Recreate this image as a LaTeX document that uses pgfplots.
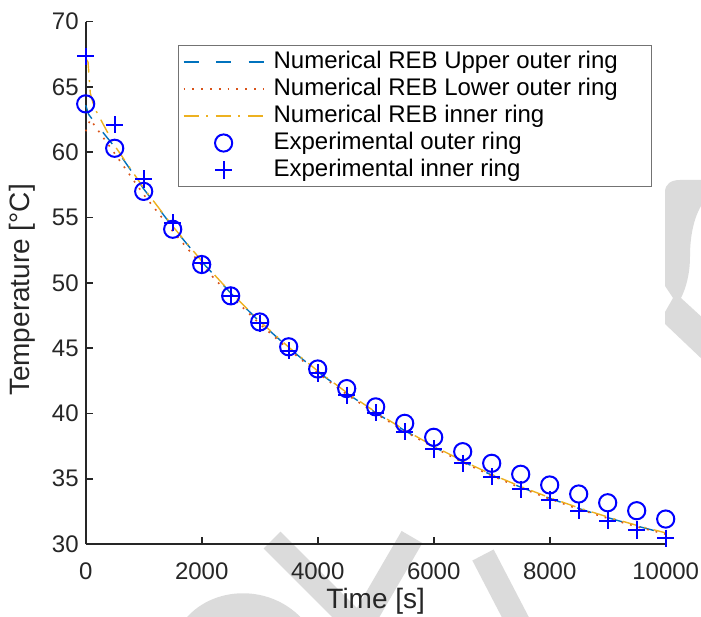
\documentclass[border=0pt]{standalone}
\usepackage{fontspec}
\setmainfont{Liberation Sans}
\usepackage{pgfplots}
\pgfplotsset{compat=1.18}
\definecolor{mblue}{rgb}{0,0.447,0.741}
\definecolor{morange}{rgb}{0.85,0.325,0.098}
\definecolor{myellow}{rgb}{0.929,0.694,0.125}
\definecolor{txt}{rgb}{0.15,0.15,0.15}
\definecolor{wm}{rgb}{0.86,0.86,0.86}
\begin{document}
\begin{tikzpicture}
\begin{scope}[x=0.5pt,y=-0.5pt,shift={(-42.85pt,272pt)}]
\draw[wm,line width=12pt] (272,540) -- (362,630);
\draw[wm,line width=12pt] (412,537) -- (358,630);
\draw[wm,line width=12pt] (483,555) -- (522,630);
\draw[wm,line width=12pt] (192,630) .. controls (215,598) and (268,596) .. (296,630);
\fill[wm] (665,192) .. controls (665,184) and (671,180) .. (680,180) -- (705,180) -- (705,200)
  .. controls (694,214) and (690,236) .. (690,256) .. controls (690,274) and (686,288) .. (681,298)
  -- (705,320) -- (705,362) -- (665,324) -- (665,312) -- (673,298) -- (665,286) -- cycle;
\end{scope}
\begin{axis}[
  at={(0,0)}, anchor=south west,
  scale only axis, width=290pt, height=261.2pt,
  xmin=0, xmax=10000, ymin=30, ymax=70,
  axis x line*=bottom, axis y line*=left,
  axis line style={txt, line width=0.9pt},
  tick align=inside, major tick length=3.5pt,
  tick style={txt, line width=0.9pt},
  xtick={0,2000,4000,6000,8000,10000},
  ytick={30,35,40,45,50,55,60,65,70},
  scaled x ticks=false,
  /pgf/number format/1000 sep={},
  /pgf/number format/assume math mode=true,
  tick label style={font=\fontsize{12}{14}\selectfont, color=txt},
  xticklabel style={yshift=-6pt},
  every axis x label/.style={at={([yshift=-32pt]axis description cs:0.5,0)}, anchor=base, font=\fontsize{14}{16}\selectfont, color=txt},
  every axis y label/.style={at={([xshift=-28pt,yshift=-3.6pt]axis description cs:0,0.5)}, rotate=90, anchor=base, font=\fontsize{14}{16}\selectfont, color=txt},
  xlabel={Time [s]}, ylabel={Temperature [°C]},
  clip=false,
  legend cell align=left,
  legend image code/.code={\draw[mark repeat=2,mark phase=2,#1] plot coordinates {(0pt,0pt) (20pt,0pt) (40pt,0pt)};},
  legend style={at={(0.1597,0.9552)}, anchor=north west, draw=black!55, line width=0.5pt,
    inner xsep=2pt, inner ysep=1.5pt, row sep=0pt, font=\fontsize{12}{14}\selectfont,
    nodes={text height=9pt, text depth=3pt, inner ysep=0.75pt, inner xsep=1.6pt}},
]
\addplot[draw=mblue, line width=0.7pt, dash pattern=on 7.5pt off 8.75pt] coordinates {
(0,63.6) (50,62.9) (100,62.6) (500,60.4) (1000,57.19) (1500,54.28) (2000,51.62) (2500,49.21) (3000,47.01) (3500,45.02) (4000,43.20) (4500,41.55) (5000,40.05) (5500,38.68) (6000,37.44) (6500,36.31) (7000,35.28) (7500,34.35) (8000,33.50) (8500,32.72) (9000,32.02) (9500,31.38) (10000,30.80)};
\addlegendentry{\hspace{3pt}\makebox[185.25pt][l]{Numerical REB Upper outer ring}}
\addplot[draw=morange, line width=0.8pt, dash pattern=on 0.9pt off 3.5pt] coordinates {
(0,61.6) (80,62.5) (500,59.9) (1000,56.75) (1500,53.95) (2000,51.35) (2500,49.0) (3000,46.85) (3500,44.9) (4000,43.1) (4500,41.45) (5000,40.0) (5500,38.63) (6000,37.39) (6500,36.26) (7000,35.23) (7500,34.30) (8000,33.45) (8500,32.67) (9000,31.97) (9500,31.33) (10000,30.75)};
\addlegendentry{\hspace{3pt}Numerical REB Lower outer ring}
\addplot[draw=myellow, line width=0.7pt, dash pattern=on 7.5pt off 3.8pt on 1pt off 3.8pt] coordinates {
(0,67.2) (40,66.9) (80,64.5) (150,63.4) (500,60.5) (1000,57.25) (1500,54.33) (2000,51.67) (2500,49.26) (3000,47.06) (3500,45.07) (4000,43.25) (4500,41.60) (5000,40.10) (5500,38.73) (6000,37.49) (6500,36.36) (7000,35.33) (7500,34.40) (8000,33.55) (8500,32.77) (9000,32.07) (9500,31.43) (10000,30.85)};
\addlegendentry{\hspace{3pt}Numerical REB inner ring}
\addplot[only marks, draw=blue, mark=o, mark size=4.3pt, line width=1pt] coordinates {
(0,63.7) (500,60.3) (1000,57.0) (1500,54.1) (2000,51.4) (2500,49.0) (3000,47.0) (3500,45.1) (4000,43.4) (4500,41.9) (5000,40.5) (5500,39.24) (6000,38.17) (6500,37.07) (7000,36.18) (7500,35.34) (8000,34.52) (8500,33.83) (9000,33.16) (9500,32.55) (10000,31.91)};
\addlegendentry{\hspace{3pt}Experimental outer ring}
\addplot[only marks, draw=blue, mark=+, mark size=4.3pt, line width=1pt] coordinates {
(0,67.35) (500,62.1) (1000,57.95) (1500,54.6) (2000,51.5) (2500,49.0) (3000,46.9) (3500,44.8) (4000,43.1) (4500,41.4) (5000,40.05) (5500,38.6) (6000,37.27) (6500,36.18) (7000,35.16) (7500,34.19) (8000,33.37) (8500,32.55) (9000,31.79) (9500,31.07) (10000,30.44)};
\addlegendentry{\hspace{3pt}Experimental inner ring}
\end{axis}
\pgfresetboundingbox
\begin{scope}[x=0.5pt,y=-0.5pt,shift={(-42.85pt,272pt)}]
\path[use as bounding box] (0,0) rectangle (701,616);
\end{scope}
\end{tikzpicture}
\end{document}
